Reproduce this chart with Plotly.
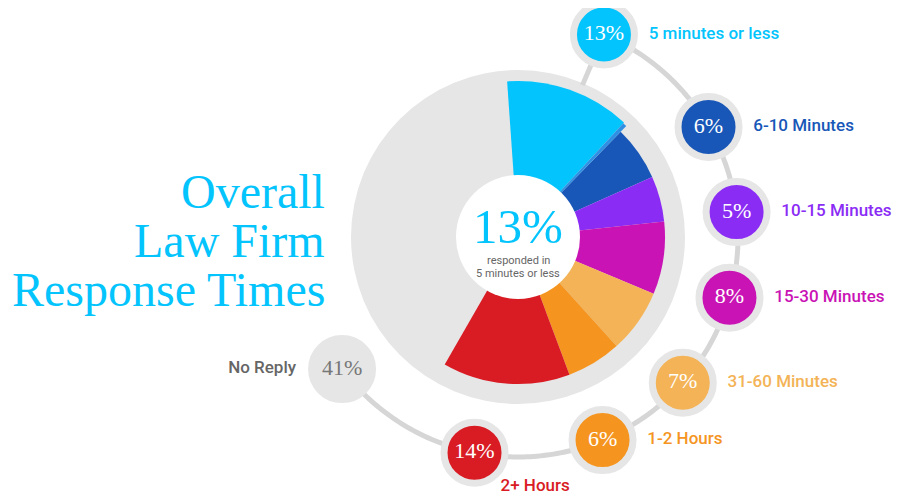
import numpy as np
import plotly.graph_objects as go

# data
categories = ["5 minutes or less", "6-10 Minutes", "10-15 Minutes", "15-30 Minutes",
              "31-60 Minutes", "1-2 Hours", "2+ Hours"]
percent = [13, 6, 5, 8, 7, 6, 14]
no_reply_label = "No Reply"
no_reply_pct = 41
headline_pct = 13
headline_text = ["responded in", "5 minutes or less"]
title_lines = ["Overall", "Law Firm", "Response Times"]

colors = ["#03c4fd", "#1857b8", "#8b2cf5", "#c913b5", "#f3b356", "#f5951f", "#d91b24"]
grey = "#e6e6e6"
cyan = "#03c4fd"

W, H = 900, 495
PAGE_OFF = 8  # body margin of the html page


def px(x):
    return (x - PAGE_OFF) / W


def py(y):
    return 1 - (y - PAGE_OFF) / H


# layout, in page pixels (radial units == pixels)
CX, CY = 518, 237
R_MAX = CY - PAGE_OFF
DISC_R = 167
HOLE_SIZE = 124
WEDGE_R = [156, 147, 147, 147, 147, 147, 147]
START = -4
SLIVER_W = 1.5
BUBBLE_R = 220
BUBBLE_THETA = [23, 60, 83.5, 106, 131.5, 157.4, 191.4, 233.1]

# wedge angles
thetas, widths = [], []
pos = START
sliver_theta = None
for i, v in enumerate(percent):
    w = v * 3.6
    thetas.append(pos + w / 2)
    widths.append(w)
    pos += w
    if i == 0:
        sliver_theta = pos + SLIVER_W / 2
        pos += SLIVER_W

fig = go.Figure()

# grey disc
fig.add_trace(go.Barpolar(r=[DISC_R], theta=[0], width=[360], marker=dict(color=grey, line_width=0),
                          hoverinfo="skip"))
# coloured wedges
fig.add_trace(go.Barpolar(r=WEDGE_R, theta=thetas, width=widths,
                          marker=dict(color=colors, line_width=0), hoverinfo="skip"))
fig.add_trace(go.Barpolar(r=[WEDGE_R[0] - 1], theta=[sliver_theta], width=[SLIVER_W],
                          marker=dict(color="#2f8fe2", line_width=0), hoverinfo="skip"))

# white centre
fig.add_trace(go.Scatterpolar(r=[0], theta=[0], mode="markers",
                              marker=dict(size=HOLE_SIZE, color="white", line_width=0), hoverinfo="skip"))

# connecting arc + spoke
arc_t = np.linspace(BUBBLE_THETA[0], BUBBLE_THETA[-1], 240)
fig.add_trace(go.Scatterpolar(r=[BUBBLE_R] * len(arc_t), theta=arc_t, mode="lines",
                              line=dict(color="#d6d6d6", width=5), hoverinfo="skip", cliponaxis=False))
fig.add_trace(go.Scatterpolar(r=[DISC_R - 2, BUBBLE_R], theta=[BUBBLE_THETA[0]] * 2, mode="lines",
                              line=dict(color="#d6d6d6", width=5), hoverinfo="skip", cliponaxis=False))

# bubbles
all_pct = percent + [no_reply_pct]
all_col = colors + [grey]
fig.add_trace(go.Scatterpolar(
    r=[BUBBLE_R] * len(all_pct), theta=BUBBLE_THETA, mode="markers+text",
    text=[f"{p}%" for p in all_pct], textposition="middle center",
    textfont=dict(family="Liberation Serif", size=22, color=["white"] * len(percent) + ["#777777"]),
    marker=dict(size=61, color=all_col, line=dict(color=grey, width=7)),
    hoverinfo="skip", cliponaxis=False))

# category labels
label_pos = ["middle right"] * 6 + ["bottom right", "middle left"]
label_size = [70] * 6 + [40, 72]
fig.add_trace(go.Scatterpolar(
    r=[BUBBLE_R] * len(all_pct), theta=BUBBLE_THETA, mode="markers+text",
    text=categories + [no_reply_label], textposition=label_pos,
    textfont=dict(family="Roboto", size=17, weight=500, color=colors + ["#666666"]),
    marker=dict(size=label_size, color="rgba(0,0,0,0)", line=dict(width=0)),
    hoverinfo="skip", cliponaxis=False))

# title
for line, yc in zip(title_lines, [192, 240, 289]):
    fig.add_annotation(x=px(327), y=py(yc), xref="paper", yref="paper", text=line, showarrow=False,
                       xanchor="right", yanchor="middle",
                       font=dict(family="Liberation Serif", size=48, color=cyan))

# centre text
fig.add_annotation(x=px(CX), y=py(227), xref="paper", yref="paper", text=f"{headline_pct}%",
                   showarrow=False, xanchor="center", yanchor="middle",
                   font=dict(family="Liberation Serif", size=49, color=cyan))
for line, yc in zip(headline_text, [261, 273]):
    fig.add_annotation(x=px(CX), y=py(yc), xref="paper", yref="paper", text=line, showarrow=False,
                       xanchor="center", yanchor="middle",
                       font=dict(family="Roboto", size=11, color="#666666"))

fig.update_layout(
    width=W, height=H, margin=dict(l=0, r=0, t=0, b=0),
    paper_bgcolor="white", plot_bgcolor="white", showlegend=False,
    polar=dict(
        domain=dict(x=[px(CX - R_MAX), px(CX + R_MAX)], y=[py(CY + R_MAX), 1]),
        bgcolor="rgba(0,0,0,0)", hole=0,
        radialaxis=dict(visible=False, range=[0, R_MAX]),
        angularaxis=dict(visible=False, rotation=90, direction="clockwise"),
        bargap=0,
    ),
)

fig.write_html("out.html")
